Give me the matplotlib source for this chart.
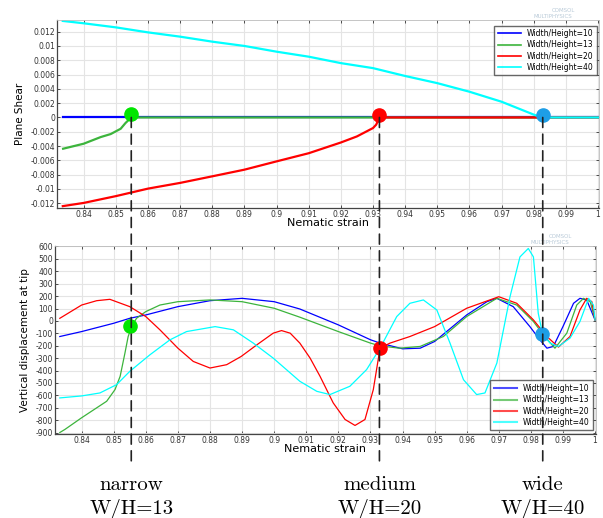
import matplotlib
matplotlib.use("Agg")
import matplotlib.pyplot as plt
from matplotlib.patches import ConnectionPatch
from matplotlib import transforms

plt.rcParams['axes.unicode_minus'] = False
plt.rcParams['font.family'] = 'DejaVu Sans'

# ---- data ----
labels = ['Width/Height=10', 'Width/Height=13', 'Width/Height=20', 'Width/Height=40']
colors = ['#0000ff', '#3cb43c', '#ff0000', '#00ffff']

xticks = [0.84, 0.85, 0.86, 0.87, 0.88, 0.89, 0.9, 0.91, 0.92, 0.93,
          0.94, 0.95, 0.96, 0.97, 0.98, 0.99, 1.0]
shear_ticks = [-0.012, -0.01, -0.008, -0.006, -0.004, -0.002, 0,
               0.002, 0.004, 0.006, 0.008, 0.01, 0.012]
disp_ticks = [-900, -800, -700, -600, -500, -400, -300, -200, -100,
              0, 100, 200, 300, 400, 500, 600]

# top panel: plane shear
sh_x10 = [0.8335, 1.0]
sh_y10 = [0.0, 0.0]
sh_x13 = [0.8336, 0.84, 0.8453, 0.8484, 0.8515, 0.853, 0.8548, 1.0]
sh_y13 = [-0.00437, -0.00367, -0.00274, -0.00232, -0.00158, -0.00078, 0.0, 0.0]
sh_x20 = [0.8335, 0.84, 0.85, 0.86, 0.87, 0.88, 0.89, 0.90, 0.91, 0.92,
          0.925, 0.93, 0.931, 0.932, 1.0]
sh_y20 = [-0.0124, -0.01195, -0.0110, -0.00995, -0.00915, -0.00823, -0.0073,
          -0.00614, -0.0050, -0.0035, -0.00265, -0.00148, -0.0010, 0.0, 0.0]
sh_x40 = [0.8335, 0.84, 0.85, 0.86, 0.87, 0.88, 0.89, 0.90, 0.91, 0.92,
          0.93, 0.94, 0.95, 0.96, 0.97, 0.975, 0.98, 0.9825, 1.0]
sh_y40 = [0.01350, 0.01317, 0.0126, 0.0119, 0.0113, 0.0106, 0.0100, 0.0092,
          0.0085, 0.0076, 0.0069, 0.0058, 0.0048, 0.0036, 0.0022, 0.0013,
          0.0004, 0.0, 0.0]

# bottom panel: vertical displacement at tip
vd_x10 = [0.8332, 0.84, 0.85, 0.855, 0.86, 0.87, 0.88, 0.89, 0.90, 0.908,
          0.92, 0.93, 0.933, 0.94, 0.9455, 0.95, 0.96, 0.9663, 0.9694, 0.9745,
          0.9797, 0.9828, 0.985, 0.987, 0.990, 0.9933, 0.9953, 0.9974, 1.0]
vd_y10 = [-126, -86, -19, 21, 48, 115, 163, 182, 155, 96,
          -32, -152, -179, -225, -220, -166, 48, 155, 182, 115,
          -46, -152, -220, -206, -46, 142, 182, 169, 8]
vd_x13 = [0.8332, 0.8348, 0.84, 0.8478, 0.8504, 0.852, 0.8535, 0.8545, 0.8556,
          0.8571, 0.86, 0.8644, 0.87, 0.88, 0.89, 0.90, 0.908, 0.92, 0.93,
          0.933, 0.939, 0.9455, 0.9527, 0.96, 0.9694, 0.9756, 0.9808, 0.9839,
          0.9875, 0.9912, 0.9943, 0.9964, 0.9985, 1.0]
vd_y13 = [-900, -875, -781, -648, -554, -447, -259, -126, -46,
          21, 75, 128, 155, 169, 155, 102, 30, -86, -179,
          -201, -220, -206, -126, 35, 182, 128, -5, -112,
          -220, -99, 128, 182, 155, 8]
vd_x20 = [0.8332, 0.84, 0.8447, 0.8488, 0.855, 0.86, 0.8644, 0.87, 0.8748,
          0.88, 0.8852, 0.8897, 0.8946, 0.8997, 0.9023, 0.905, 0.908, 0.9112,
          0.9143, 0.9184, 0.9221, 0.9252, 0.9283, 0.9309, 0.933, 0.9361,
          0.9423, 0.95, 0.96, 0.97, 0.9756, 0.9808, 0.985, 0.9886, 0.9922,
          0.9953, 0.9974, 0.999, 1.0]
vd_y20 = [21, 128, 163, 174, 115, 35, -72, -220, -327,
          -380, -353, -287, -193, -99, -78, -99, -179, -300,
          -447, -661, -795, -843, -795, -554, -220, -179,
          -126, -46, 102, 195, 142, 8, -126, -211, -126,
          88, 182, 155, 8]
vd_x40 = [0.8332, 0.84, 0.8457, 0.8509, 0.855, 0.8613, 0.8675, 0.8727, 0.8816,
          0.8873, 0.8935, 0.8997, 0.908, 0.9133, 0.9174, 0.9236, 0.9288, 0.933,
          0.9382, 0.9423, 0.9465, 0.9507, 0.9548, 0.959, 0.9631, 0.9657, 0.9694,
          0.9735, 0.9766, 0.9792, 0.9808, 0.9823, 0.9837, 0.986, 0.9886, 0.9922,
          0.9953, 0.998, 0.9995, 1.0]
vd_y40 = [-621, -605, -581, -514, -407, -273, -153, -86, -46,
          -72, -179, -300, -487, -568, -594, -527, -393, -220,
          35, 142, 169, 88, -179, -474, -594, -581, -340,
          195, 516, 584, 516, 62, -112, -179, -206, -139,
          -5, 182, 128, 8]

# transition points (marker positions)
crit_x = [0.8548, 0.932, 0.9828]
crit_shear = [0.0005, 0.0003, 0.0003]
crit_disp_x = [0.8552, 0.933, 0.9835]
crit_disp = [-42, -222, -104]
crit_colors = ['#00e600', '#ff0000', '#1e9ee6']
crit_names = ['narrow', 'medium', 'wide']
crit_wh = ['W/H=13', 'W/H=20', 'W/H=40']

fig = plt.figure(figsize=(6.03, 5.18), dpi=100)
ax1 = fig.add_axes([57 / 603, 1 - 208 / 518, 542 / 603, 188 / 518])
ax2 = fig.add_axes([55 / 603, 1 - 434 / 518, 541 / 603, 188 / 518])


def style(ax):
    ax.set_xlim(0.8317, 1.0003)
    ax.set_xticks(xticks)
    ax.set_xticklabels(['%g' % t for t in xticks])
    ax.grid(True, color='#e4e4e4', linewidth=0.8)
    ax.set_axisbelow(True)
    ax.tick_params(labelsize=5.5, colors='#333333', length=2.5, width=0.6,
                   pad=1.5, top=True, right=True, direction='in')
    for side in ['left', 'bottom']:
        ax.spines[side].set_color('#444444')
        ax.spines[side].set_linewidth(0.9)
    for side in ['top', 'right']:
        ax.spines[side].set_color('#bbbbbb')
        ax.spines[side].set_linewidth(0.6)
    ax.set_xlabel('Nematic strain', fontsize=8, labelpad=-0.5)


# top panel
for xs, ys, c, lab in zip([sh_x10, sh_x13, sh_x20, sh_x40],
                          [sh_y10, sh_y13, sh_y20, sh_y40], colors, labels):
    ax1.plot(xs, ys, color=c, linewidth=1.6, label=lab)
ax1.set_ylim(-0.01266, 0.01363)
ax1.set_yticks(shear_ticks)
ax1.set_yticklabels(['%g' % t for t in shear_ticks])
style(ax1)
ax1.set_ylabel('Plane Shear', fontsize=7.5, labelpad=4)
for x, y, c in zip(crit_x, crit_shear, crit_colors):
    ax1.plot(x, y, 'o', color=c, markersize=9.5, zorder=5)
leg1 = ax1.legend(loc='upper right', fontsize=5.5, frameon=True, fancybox=False,
                  edgecolor='#444444', borderpad=0.45, handlelength=3,
                  labelspacing=0.3, borderaxespad=0,
                  bbox_to_anchor=(0.9965, 0.97))
leg1.get_frame().set_linewidth(1.0)
for ln in leg1.get_lines():
    ln.set_linewidth(1.2)

# bottom panel
for xs, ys, c, lab in zip([vd_x10, vd_x13, vd_x20, vd_x40],
                          [vd_y10, vd_y13, vd_y20, vd_y40], colors, labels):
    ax2.plot(xs, ys, color=c, linewidth=0.9, label=lab)
ax2.set_ylim(-912, 604)
ax2.set_yticks(disp_ticks)
ax2.set_yticklabels(['%g' % t for t in disp_ticks])
style(ax2)
ax2.set_ylabel('Vertical displacement at tip', fontsize=7.5, labelpad=4)
for x, y, c in zip(crit_disp_x, crit_disp, crit_colors):
    ax2.plot(x, y, 'o', color=c, markersize=9.5, zorder=5)
leg2 = ax2.legend(loc='lower right', fontsize=5.5, frameon=True, fancybox=False,
                  edgecolor='#444444', borderpad=0.45, handlelength=3,
                  labelspacing=0.3, borderaxespad=0,
                  bbox_to_anchor=(0.9945, 0.02))
leg2.get_frame().set_linewidth(1.0)
for ln in leg2.get_lines():
    ln.set_linewidth(1.5)
    ln.set_alpha(0.7)

# watermarks
for ax in (ax1, ax2):
    ax.text(0.935, 1.035, 'COMSOL', transform=ax.transAxes, fontsize=4,
            color='#b9cad8', ha='center', va='bottom')
    ax.text(0.915, 1.005, 'MULTIPHYSICS', transform=ax.transAxes, fontsize=4,
            color='#b9cad8', ha='center', va='bottom')

# dashed connectors and annotations
below = transforms.blended_transform_factory(ax1.transData, ax2.transAxes)
figx = transforms.blended_transform_factory(ax1.transData, fig.transFigure)
for x, name, wh in zip(crit_x, crit_names, crit_wh):
    con = ConnectionPatch(xyA=(x, 0.0), coordsA=ax1.transData,
                          xyB=(x, -0.15), coordsB=below,
                          linestyle=(0, (6, 4)), color='#222222', linewidth=1.2,
                          zorder=10)
    fig.add_artist(con)
    fig.text(x, 1 - 490 / 518, name, transform=figx, ha='center',
             va='baseline', fontsize=15, family='cmr10')
    fig.text(x, 1 - 514 / 518, wh, transform=figx, ha='center',
             va='baseline', fontsize=15, family='cmr10')

fig.savefig('out.png', dpi=100)
